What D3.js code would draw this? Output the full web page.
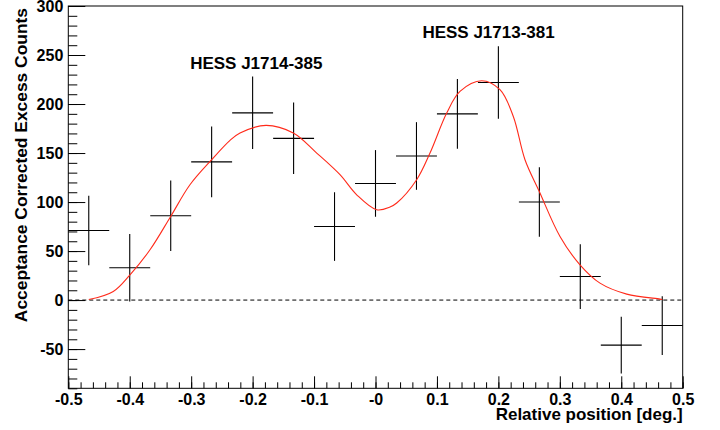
<!DOCTYPE html>
<html>
<head>
<meta charset="utf-8">
<script src="https://cdn.jsdelivr.net/npm/d3@7"></script>
<style>
  body { margin: 0; background: #fff; }
  svg { display: block; }
  text { font-family: "Liberation Sans", Arial, sans-serif; font-weight: bold; fill: #000; }
</style>
</head>
<body>
<div id="chart"></div>
<script>
/* global d3 */

// histogram bins (centre, value, error)
const binCenters = [-0.4667, -0.4, -0.3333, -0.2667, -0.2, -0.1333, -0.0667, 0, 0.0667, 0.1333, 0.2, 0.2667, 0.3333, 0.4, 0.4667];
const binValues = [71, 33, 86, 141, 191, 165, 75, 119, 147, 190, 222, 100, 24, -46, -26];
const binErrors = [35.5, 34.5, 36, 36, 37, 36.5, 35, 34, 34.5, 35.5, 37, 35.5, 33, 29, 30];
const binHalfWidth = 0.0333;

// fitted curve
const fitX = [-0.4667, -0.4268, -0.3996, -0.367, -0.3334, -0.302, -0.2666, -0.2368, -0.2205, -0.1782, -0.1338, -0.0957, -0.0578, -0.0306, 0.002, 0.0236, 0.0345, 0.067, 0.0887, 0.1159, 0.1375, 0.1728, 0.2026, 0.2243, 0.2433, 0.2666, 0.3003, 0.3328, 0.3654, 0.4089, 0.463, 0.4667];
const fitY = [0.5, 8.8, 25.8, 51.3, 85.3, 117.6, 143.2, 162.9, 170.4, 178.2, 170.4, 150, 127.9, 107.4, 92.1, 94.9, 99, 122.8, 150, 190.8, 212.9, 223.8, 214.6, 187.3, 143.2, 110.8, 64.9, 36, 17.3, 6.1, 1.0, 0.5];

const xTickValues = [-0.5, -0.4, -0.3, -0.2, -0.1, 0, 0.1, 0.2, 0.3, 0.4, 0.5];
const xTickLabels = ['-0.5', '-0.4', '-0.3', '-0.2', '-0.1', '-0', '0.1', '0.2', '0.3', '0.4', '0.5'];
const yTickValues = [-50, 0, 50, 100, 150, 200, 250, 300];
const yTickLabels = ['-50', '0', '50', '100', '150', '200', '250', '300'];

const labels = [
  { text: 'HESS J1714-385', x: -0.194, y: 236 },
  { text: 'HESS J1713-381', x: 0.184, y: 267.5 },
];

const w = 720;
const h = 430;

const svg = d3.select('#chart')
  .append('svg')
  .attr('width', w)
  .attr('height', h);

const x = d3.scaleLinear().domain([-0.5, 0.5]).range([68.3, 682.7]);
const y = d3.scaleLinear().domain([-90, 300]).range([388.3, 6]);

// minor ticks
svg.append('g')
  .attr('transform', `translate(0,${y(-90)})`)
  .call(d3.axisBottom(x).tickValues(d3.range(-25, 26).map((i) => i * 0.02)).tickSize(-6).tickFormat(''))
  .call((g) => g.select('.domain').remove());

svg.append('g')
  .attr('transform', `translate(${x(-0.5)},0)`)
  .call(d3.axisLeft(y).tickValues(d3.range(-9, 31).map((i) => i * 10)).tickSize(-9).tickFormat(''))
  .call((g) => g.select('.domain').remove());

// major ticks with labels
svg.append('g')
  .attr('transform', `translate(0,${y(-90)})`)
  .call(d3.axisBottom(x).tickValues(xTickValues).tickSize(-12).tickPadding(5)
    .tickFormat((d, i) => xTickLabels[i]))
  .call((g) => g.select('.domain').remove());

svg.append('g')
  .attr('transform', `translate(${x(-0.5)},0)`)
  .call(d3.axisLeft(y).tickValues(yTickValues).tickSize(-17).tickPadding(5)
    .tickFormat((d, i) => yTickLabels[i]))
  .call((g) => g.select('.domain').remove());

svg.selectAll('.tick line').attr('stroke', '#000').attr('stroke-width', 1);
svg.selectAll('.tick text')
  .attr('font-family', '"Liberation Sans", Arial, sans-serif')
  .attr('font-weight', 'bold')
  .attr('font-size', 16)
  .attr('fill', '#000');

// frame
svg.append('rect')
  .attr('x', x(-0.5))
  .attr('y', y(300))
  .attr('width', x(0.5) - x(-0.5))
  .attr('height', y(-90) - y(300))
  .attr('fill', 'none')
  .attr('stroke', '#000')
  .attr('stroke-width', 1);

// zero line
svg.append('line')
  .attr('x1', x(-0.5))
  .attr('x2', x(0.5))
  .attr('y1', y(0))
  .attr('y2', y(0))
  .attr('stroke', '#000')
  .attr('stroke-dasharray', '4,3');

// error crosses
const pts = svg.append('g').attr('stroke', '#000').attr('stroke-width', 1.1);
binCenters.forEach((c, i) => {
  pts.append('line')
    .attr('x1', x(c - binHalfWidth)).attr('x2', x(c + binHalfWidth))
    .attr('y1', y(binValues[i])).attr('y2', y(binValues[i]));
  pts.append('line')
    .attr('x1', x(c)).attr('x2', x(c))
    .attr('y1', y(binValues[i] - binErrors[i])).attr('y2', y(binValues[i] + binErrors[i]));
});

// fit curve
const line = d3.line()
  .x((d) => x(d[0]))
  .y((d) => y(d[1]))
  .curve(d3.curveCatmullRom);

svg.append('path')
  .datum(fitX.map((v, i) => [v, fitY[i]]))
  .attr('d', line)
  .attr('fill', 'none')
  .attr('stroke', '#ff2a1a')
  .attr('stroke-width', 1.1);

// source labels
svg.selectAll('.src')
  .data(labels)
  .enter()
  .append('text')
  .attr('class', 'src')
  .attr('x', (d) => x(d.x))
  .attr('y', (d) => y(d.y))
  .attr('text-anchor', 'middle')
  .attr('font-size', 17)
  .text((d) => d.text);

// axis titles
svg.append('text')
  .attr('x', x(0.5))
  .attr('y', 420)
  .attr('text-anchor', 'end')
  .attr('font-size', 17)
  .text('Relative position [deg.]');

svg.append('text')
  .attr('transform', `translate(27,${y(300) + 2}) rotate(-90)`)
  .attr('text-anchor', 'end')
  .attr('font-size', 17.4)
  .text('Acceptance Corrected Excess Counts');
</script>
</body>
</html>
